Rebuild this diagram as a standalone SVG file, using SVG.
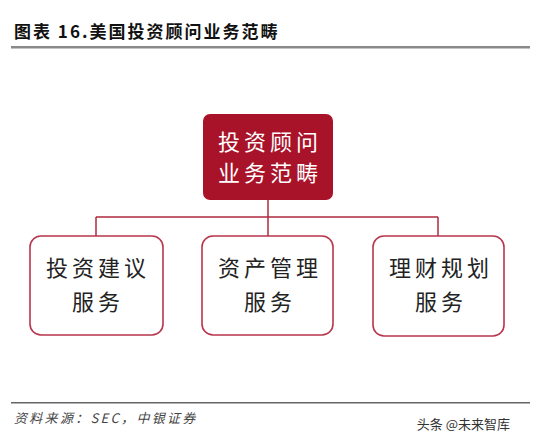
<svg xmlns="http://www.w3.org/2000/svg" width="541" height="444" viewBox="0 0 541 444">
<style>
.t{font-family:"Noto Sans CJK SC","Liberation Sans",sans-serif}
.box{fill:#fff;stroke:#b8354c;stroke-width:1.6}
.bt{font-family:"Noto Sans CJK SC",sans-serif;font-size:22px;fill:#222;text-anchor:middle;letter-spacing:4px}
.ln{stroke:#b02a40;stroke-width:1.5;fill:none}
</style>
<rect width="541" height="444" fill="#fff"/>
<text class="t" x="14" y="38" font-size="17" font-weight="bold" fill="#111" letter-spacing="2">图表 16.美国投资顾问业务范畴</text>
<rect x="11" y="46" width="519" height="2.5" fill="#8a8a8a"/>
<g id="connectors">
<path class="ln" d="M268 200V217M96 217H438M96 217V236M268 217V236M438 217V236"/>
</g>
<g id="root">
<rect x="203" y="114" width="130" height="86" rx="7" fill="#a8132a"/>
<text class="bt" x="270" y="150" style="fill:#fff">投资顾问</text>
<text class="bt" x="270" y="181" style="fill:#fff">业务范畴</text>
</g>
<g id="n1">
<rect class="box" x="30" y="236" width="133" height="99" rx="11"/>
<text class="bt" x="98" y="276">投资建议</text>
<text class="bt" x="98" y="310">服务</text>
</g>
<g id="n2">
<rect class="box" x="202" y="236" width="131" height="99" rx="11"/>
<text class="bt" x="270" y="276">资产管理</text>
<text class="bt" x="270" y="310">服务</text>
</g>
<g id="n3">
<rect class="box" x="373" y="236" width="131" height="100" rx="11"/>
<text class="bt" x="441" y="276">理财规划</text>
<text class="bt" x="441" y="310">服务</text>
</g>
<rect x="11" y="402" width="519" height="1.5" fill="#666"/>
<text class="t" x="14" y="423" font-size="13" font-style="italic" fill="#444" letter-spacing="2.3">资料来源：SEC，中银证券</text>
<text class="t" x="510" y="429" font-size="13" fill="#333" text-anchor="end">头条 @未来智库</text>
</svg>
